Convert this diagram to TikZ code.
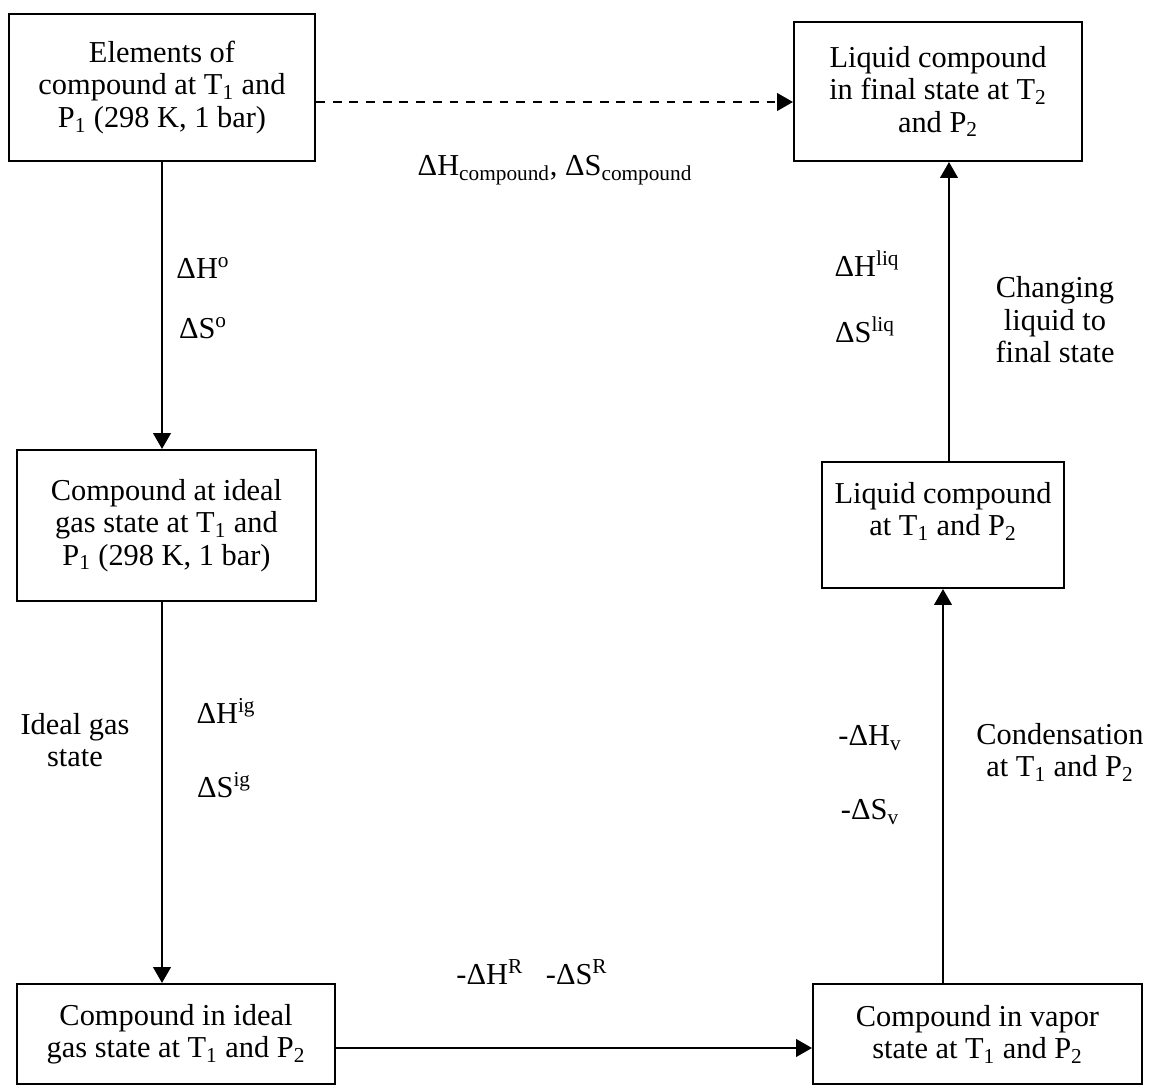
\documentclass[tikz,border=0pt]{standalone}
\usepackage{fontspec}
\setmainfont{Liberation Serif}
\usetikzlibrary{arrows.meta}

\tikzstyle{box}=[draw=black,line width=1.2pt,align=center]
\tikzstyle{lbl}=[align=center,inner sep=0pt]
\tikzstyle{flow}=[line width=1.1pt,-{Triangle[width=10pt,length=9pt]}]

\begin{document}
\begin{tikzpicture}[x=0.02cm, y=-0.02cm, font=\fontsize{17.3}{18.5}\selectfont]
	\useasboundingbox (0,0) rectangle (1150,1088);
	%boxes
	\node[box, minimum width=6.12cm, minimum height=2.94cm] (elem) at (162,87.5)
	{Elements of\\compound at T\textsubscript{1} and\\P\textsubscript{1} (298 K, 1 bar)};
	\node[box, minimum width=5.76cm, minimum height=2.78cm] (final) at (938,91.5)
	{Liquid compound\\in final state at T\textsubscript{2}\\and P\textsubscript{2}};
	\node[box, minimum width=5.98cm, minimum height=3.02cm] (igone) at (166.5,525.5)
	{Compound at ideal\\gas state at T\textsubscript{1} and\\P\textsubscript{1} (298 K, 1 bar)};
	\node[box, minimum width=6.36cm, minimum height=2cm] (igtwo) at (176,1034)
	{Compound in ideal\\gas state at T\textsubscript{1} and P\textsubscript{2}};
	\node[box, minimum width=6.58cm, minimum height=2cm] (vap) at (977.5,1034)
	{Compound in vapor\\state at T\textsubscript{1} and P\textsubscript{2}};
	\node[box, minimum width=4.84cm, minimum height=2.52cm] (liq) at (943,525) {};
	\node[lbl] (liqtext) at (943,511)
	{Liquid compound\\at T\textsubscript{1} and P\textsubscript{2}};
	%arrows
	\coordinate (dashstart) at ([yshift=-0.29cm]elem.east);
	\draw[flow, dash pattern=on 5pt off 4.5pt] (dashstart) -- (dashstart -| final.west);
	\draw[flow] (elem.south) -- (elem.south |- igone.north);
	\draw[flow] (elem.south |- igone.south) -- (elem.south |- igtwo.north);
	\coordinate (rstart) at ([yshift=-0.28cm]igtwo.east);
	\draw[flow] (rstart) -- (rstart -| vap.west);
	\draw[flow] (vap.north -| liq.south) -- (liq.south);
	\draw[flow] ([xshift=0.12cm]liq.north) -- ([xshift=0.12cm]liq.north |- final.south);
	%labels
	\node[lbl] (compound) at (555,170) {ΔH\textsubscript{compound}, ΔS\textsubscript{compound}};
	\node[lbl] (hform) at (203,268) {ΔH\textsuperscript{o}};
	\node[lbl] (sform) at (203,328) {ΔS\textsuperscript{o}};
	\node[lbl] (hig) at (226,711) {ΔH\textsuperscript{ig}};
	\node[lbl] (sig) at (224,785) {ΔS\textsuperscript{ig}};
	\node[lbl] (igstate) at (75,740) {Ideal gas\\state};
	\node[lbl] (resid) at (532,972) {-ΔH\textsuperscript{R}~~~-ΔS\textsuperscript{R}};
	\node[lbl] (hvap) at (870,738) {-ΔH\textsubscript{v}};
	\node[lbl] (svap) at (870,812) {-ΔS\textsubscript{v}};
	\node[lbl] (cond) at (1060,752) {Condensation\\at T\textsubscript{1} and P\textsubscript{2}};
	\node[lbl] (hliq) at (867,264) {ΔH\textsuperscript{liq}};
	\node[lbl] (sliq) at (865,330) {ΔS\textsuperscript{liq}};
	\node[lbl] (changing) at (1055,320) {Changing\\liquid to\\final state};
\end{tikzpicture}
\end{document}
